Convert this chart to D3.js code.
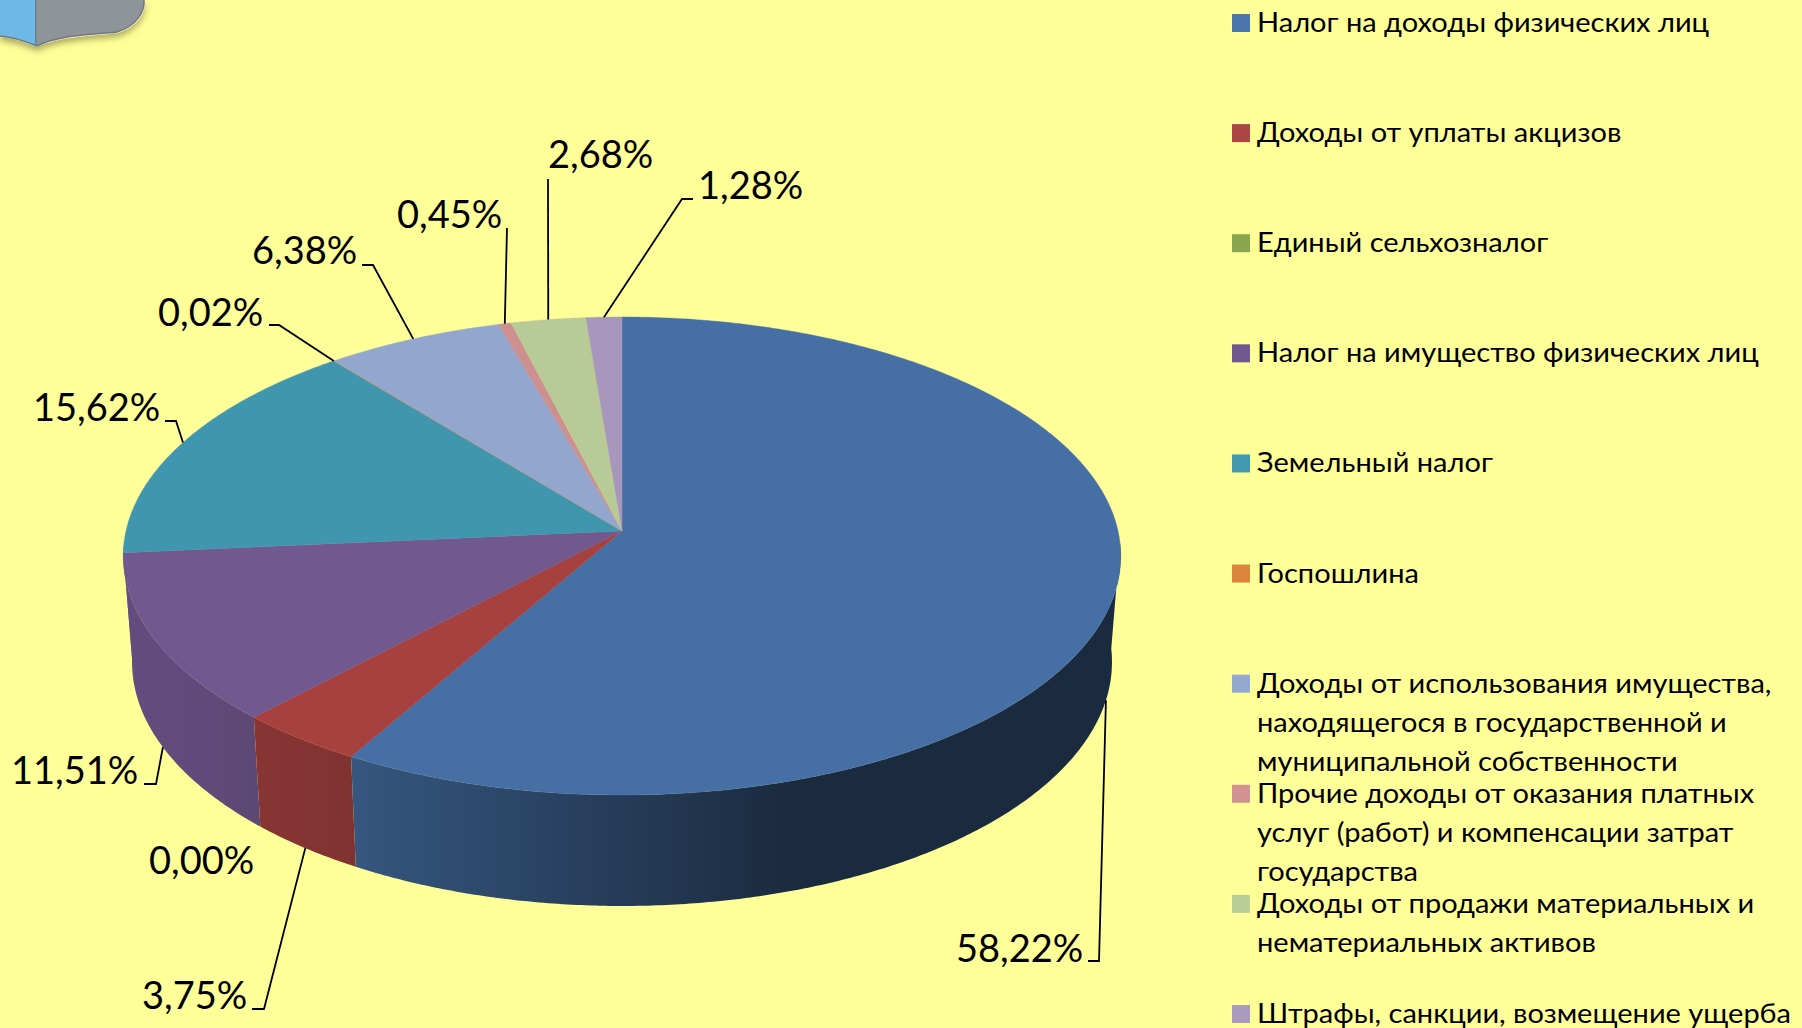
<!DOCTYPE html>
<html>
<head>
<meta charset="utf-8">
<script src="https://cdn.jsdelivr.net/npm/d3@7/dist/d3.min.js"></script>
<style>
  html, body { margin: 0; padding: 0; background: #ffff99; overflow: hidden; }
  text { font-family: Lato, sans-serif; fill: #000; }
</style>
</head>
<body>
<script>
// Chart data
var categories = [
  "Налог на доходы физических лиц",
  "Доходы от уплаты акцизов",
  "Единый сельхозналог",
  "Налог на имущество физических лиц",
  "Земельный налог",
  "Госпошлина",
  "Доходы от использования имущества, находящегося в государственной и муниципальной собственности",
  "Прочие доходы от оказания платных услуг (работ) и компенсации затрат государства",
  "Доходы от продажи материальных и нематериальных активов",
  "Штрафы, санкции, возмещение ущерба"
];
var shares = [58.22, 3.75, 0.0, 11.51, 15.62, 0.02, 6.38, 0.45, 2.68, 1.28];
var colors = ["#4670a5", "#a64140", "#89a54e", "#71588f", "#4096ae", "#db843d", "#93a6cd", "#cd8f90", "#b8ca95", "#a797bd"];
var legendColors = ["#4a76ab", "#aa4643", "#89a54e", "#71588f", "#4198af", "#db843d", "#93a9cf", "#d19392", "#b9cd96", "#a99bbd"];

// Wrapped legend lines, same order as categories
var legendLines = [
  ["Налог на доходы физических лиц"],
  ["Доходы от уплаты акцизов"],
  ["Единый сельхозналог"],
  ["Налог на имущество физических лиц"],
  ["Земельный налог"],
  ["Госпошлина"],
  ["Доходы от использования имущества,", "находящегося в государственной и", "муниципальной собственности"],
  ["Прочие доходы от оказания платных", "услуг (работ) и компенсации затрат", "государства"],
  ["Доходы от продажи материальных и", "нематериальных активов"],
  ["Штрафы, санкции, возмещение ущерба"]
];

// Where each data label sits: left edge, baseline
var labelX = [956, 142, 149, 11, 33, 158, 252, 397, 548, 698];
var labelY = [962, 1009, 874, 784, 421, 326, 264, 228, 168, 199];
// Leader line bend points from the label towards the pie (null = no leader)
var leaderBend = [
  [[1088, 961], [1099, 961]],
  [[252, 1009], [264, 1009]],
  null,
  [[144, 784], [156, 784]],
  [[165, 421], [176, 421]],
  [[269, 325], [279, 325]],
  [[362, 265], [373, 265]],
  [[507, 228]],
  [[548, 179]],
  [[693, 199], [682, 199]]
];

var width = 1802, height = 1028;

var svg = d3.select("body").append("svg")
  .attr("width", width)
  .attr("height", height)
  .style("display", "block");

svg.append("rect").attr("width", width).attr("height", height).attr("fill", "#ffff99");

var defs = svg.append("defs");

// Logo corner at the top left
var logoShadow = defs.append("filter").attr("id", "logoShadow")
  .attr("x", "-20%").attr("y", "-20%").attr("width", "140%").attr("height", "160%");
logoShadow.append("feDropShadow").attr("dx", 0).attr("dy", 4).attr("stdDeviation", 3)
  .attr("flood-color", "#6b6b30").attr("flood-opacity", 0.55);

var logo = svg.append("g").attr("filter", "url(#logoShadow)");
logo.append("path")
  .attr("d", "M0,0 L145,0 C146,12 138,27 118,33 C95,36 60,36 37,47 C25,42 12,38 0,37 Z")
  .attr("fill", "#fffdd0");
logo.append("path")
  .attr("d", "M37,0 L144,0 C145,11 137,26 117,32 C95,35 60,34 37,46 Z")
  .attr("fill", "#8f9499");
logo.append("path")
  .attr("d", "M0,0 L36,0 L36,46 C25,41 12,37 0,36 Z")
  .attr("fill", "#6cb9e6");
logo.append("path")
  .attr("d", "M36,0 L36,46")
  .attr("stroke", "#5b6b7a").attr("stroke-width", 1.5).attr("fill", "none");
logo.append("path")
  .attr("d", "M144,0 C145,11 137,26 117,32 C95,35 60,34 37,46 C25,41 12,37 0,36")
  .attr("stroke", "#6f7680").attr("stroke-width", 1.5).attr("fill", "none");

// Perspective disk: a unit circle projected to the screen, centre at (cx, cy)
function disk(cx, cy, a, b, k) {
  return function (angle) {
    var u = Math.sin(angle), v = -Math.cos(angle);
    var w = 1 + k * v;
    return [cx + (b * u) / w, cy + (a * v) / w];
  };
}
var topRim = disk(622, 531, 236.4, 496, -0.1046);
var bottomRim = disk(622, 636.5, 241.3, 487.3, -0.1045);

var pie = d3.pie().sort(null).value(function (d) { return d; });
var arcs = pie(shares);

// Samples an arc's angles, about one step per half degree
function sampleAngles(a0, a1) {
  var n = Math.max(2, Math.ceil((a1 - a0) / (Math.PI / 360)));
  return d3.range(n + 1).map(function (i) { return a0 + ((a1 - a0) * i) / n; });
}

// Wall shade gets darker to the right
var shadeX = [132, 354, 790];
var shadeK = [0.88, 0.77, 0.38];
var stopOffset = d3.scaleLinear().domain([132, 790]).range([0, 1]);

var line = d3.line();

// Walls, last slice first so the front ones end up on top
arcs.slice().reverse().forEach(function (d) {
  var i = d.index;
  if (d.endAngle - d.startAngle === 0) return;
  var c = d3.rgb(colors[i]);
  var id = "wall" + i;
  var grad = defs.append("linearGradient").attr("id", id)
    .attr("gradientUnits", "userSpaceOnUse")
    .attr("x1", stopOffset.domain()[0]).attr("x2", stopOffset.domain()[1])
    .attr("y1", 0).attr("y2", 0);
  shadeX.forEach(function (x, j) {
    var s = shadeK[j];
    grad.append("stop").attr("offset", stopOffset(x))
      .attr("stop-color", d3.rgb(c.r * s, c.g * s, c.b * s).formatHex());
  });
  var angles = sampleAngles(d.startAngle, d.endAngle);
  var path = "";
  d3.pairs(angles).forEach(function (p) {
    if (-Math.cos(p[0]) < 0.05 || -Math.cos(p[1]) < 0.05) return;
    path += line([topRim(p[0]), topRim(p[1]), bottomRim(p[1]), bottomRim(p[0])]) + "Z";
  });
  if (path) svg.append("path").attr("d", path).attr("fill", "url(#" + id + ")");
});

// Top face
arcs.forEach(function (d, i) {
  if (d.endAngle - d.startAngle === 0) return;
  var pts = [[622, 531]].concat(sampleAngles(d.startAngle, d.endAngle).map(topRim));
  svg.append("path")
    .attr("d", line(pts) + "Z")
    .attr("fill", colors[i])
    .attr("stroke", colors[i])
    .attr("stroke-width", 0.4);
});

// Leader lines go to the middle of the slice, on the near rim for front slices
arcs.forEach(function (d, i) {
  if (!leaderBend[i]) return;
  var mid = (d.startAngle + d.endAngle) / 2;
  var anchor = -Math.cos(mid) > 0 ? bottomRim(mid) : topRim(mid);
  svg.append("path")
    .attr("d", line(leaderBend[i].concat([anchor])))
    .attr("fill", "none")
    .attr("stroke", "#000")
    .attr("stroke-width", 1.8);
});

// Data labels
var fmt = d3.format(".2f");
svg.append("g").selectAll("text").data(shares).join("text")
  .attr("x", function (d, i) { return labelX[i]; })
  .attr("y", function (d, i) { return labelY[i]; })
  .attr("font-size", 38)
  .text(function (d) { return fmt(d).replace(".", ",") + "%"; });

// Legend
var legendY = d3.scalePoint().domain(d3.range(categories.length)).range([14, 1005]);
var legend = svg.append("g").selectAll("g").data(categories).join("g")
  .attr("transform", function (d, i) { return "translate(1232," + legendY(i) + ")"; });
legend.append("rect")
  .attr("width", 18).attr("height", 18)
  .attr("fill", function (d, i) { return legendColors[i]; });
legend.each(function (d, i) {
  d3.select(this).selectAll("text").data(legendLines[i]).join("text")
    .attr("transform", function (t, j) { return "translate(25," + (18 + j * 39) + ") scale(1.055,1)"; })
    .attr("font-size", 27.5)
    .text(function (t) { return t; });
});
</script>
</body>
</html>
